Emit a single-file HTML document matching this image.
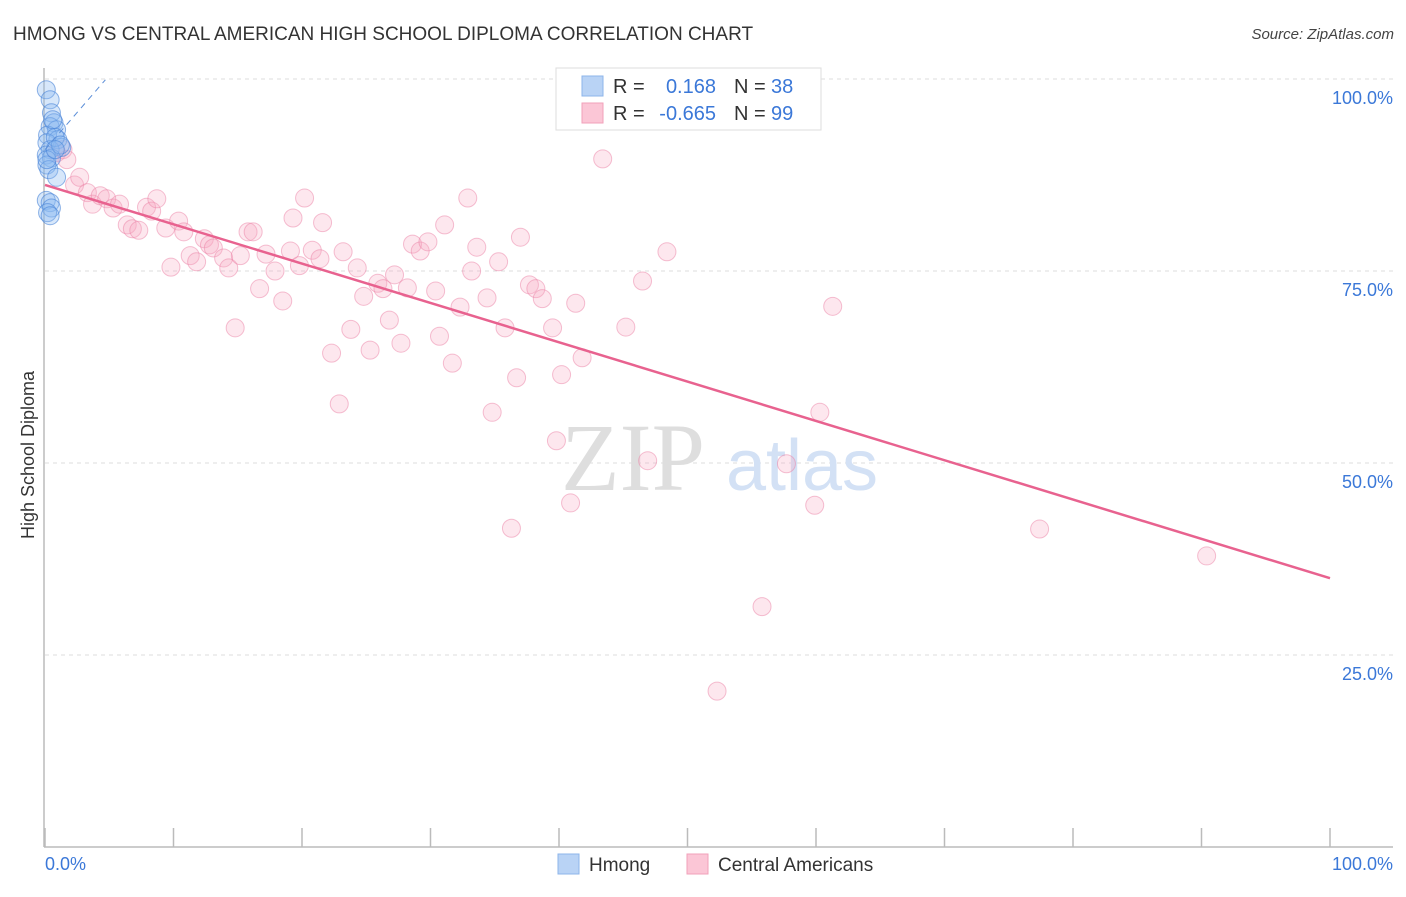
<!DOCTYPE html>
<html><head><meta charset="utf-8"><style>
body{margin:0;background:#fff;font-family:"Liberation Sans",sans-serif}
#wrap{position:relative;width:1406px;height:892px}
</style></head><body>
<div id="wrap">
<svg id="chart" width="1406" height="892"></svg>
</div>
<script>
const pinkX=[0.9,1.4,1.7,2.3,2.7,3.3,3.7,4.3,4.8,5.3,5.8,6.4,6.8,7.3,7.9,8.3,8.7,9.4,9.8,10.4,10.8,11.3,11.8,12.4,12.8,13.1,13.9,14.3,14.8,15.2,15.8,16.2,16.7,17.2,17.9,18.5,19.1,19.3,19.8,20.2,20.8,21.4,21.6,22.3,22.9,23.2,23.8,24.3,24.8,25.3,25.9,26.3,26.8,27.2,27.7,28.2,28.6,29.2,29.8,30.4,30.7,31.1,31.7,32.3,32.9,33.2,33.6,34.4,34.8,35.3,35.8,36.3,36.7,37.0,37.7,38.2,38.7,39.5,39.8,40.2,40.9,41.3,41.8,43.4,45.2,46.5,46.9,48.4,49.2,52.3,55.8,57.7,59.9,60.3,61.3,77.4,90.4];
const pinkY=[90.4,90.8,89.5,86.2,87.2,85.2,83.7,84.8,84.4,83.2,83.7,81.0,80.5,80.3,83.3,82.8,84.4,80.6,75.5,81.5,80.1,77.0,76.2,79.2,78.4,78.0,76.7,75.4,67.6,77.0,80.1,80.1,72.7,77.2,75.0,71.1,77.6,81.9,75.7,84.5,77.7,76.6,81.3,64.3,57.7,77.5,67.4,75.4,71.7,64.7,73.4,72.7,68.6,74.5,65.6,72.8,78.5,77.6,78.8,72.4,66.5,81.0,63.0,70.3,84.5,75.0,78.1,71.5,56.6,76.2,67.6,41.5,61.1,79.4,73.2,72.7,71.4,67.6,52.9,61.5,44.8,70.8,63.7,89.6,67.7,73.7,50.3,77.5,99.9,20.3,31.3,49.9,44.5,56.6,70.4,41.4,37.9];
const blueX=[0.1,0.4,0.5,0.7,0.4,0.9,0.2,1.0,0.15,1.3,0.4,0.1,0.5,0.15,0.3,0.9,0.1,0.4,0.5,0.2,0.4,0.8,1.2,0.6,0.15,0.8];
const blueY=[98.6,97.3,95.6,94.3,93.8,93.4,92.7,92.1,91.7,91.1,90.8,90.1,89.7,88.8,88.2,87.2,84.2,83.9,83.2,82.6,82.2,92.4,91.4,94.7,89.5,90.8];
const pinkTrendX=[0,100], pinkTrendY=[86.2,35.0];
const blueTrendX=[0,4.7], blueTrendY=[90.8,99.9];
const yTicks=[100,75,50,25];
const yTickLabels=["100.0%","75.0%","50.0%","25.0%"];
const xTicks=[0,10,20,30,40,50,60,70,80,90,100];

const X0=45,X1=1330,Y0=847,Y100=79;
const sx=v=>X0+(X1-X0)*v/100;
const sy=v=>Y0-(Y0-Y100)*v/100;
const svg=document.getElementById('chart');
const NS='http://www.w3.org/2000/svg';
function mk(tag,attrs,parent){const e=document.createElementNS(NS,tag);for(const k in attrs)e.setAttribute(k,attrs[k]);(parent||svg).appendChild(e);return e;}
function txt(s,attrs){const e=mk('text',attrs);e.textContent=s;return e;}

let t=txt('HMONG VS CENTRAL AMERICAN HIGH SCHOOL DIPLOMA CORRELATION CHART',{x:13,y:40,'font-size':19,fill:'#333'});


t=txt('Source: ZipAtlas.com',{x:1394,y:39,'font-size':15,fill:'#444','font-style':'italic','text-anchor':'end'});



yTicks.forEach((v,i)=>{
 const g=mk('line',{x1:45,x2:1393,y1:sy(v),y2:sy(v),stroke:'#ddd','stroke-dasharray':'4,4'});
 
 
 const l=txt(yTickLabels[i],{x:1393,y:sy(v)+25,'font-size':18,fill:'#3b78d8','text-anchor':'end'});
 
 
});
let a=mk('line',{x1:44,x2:44,y1:68,y2:847,stroke:'#bbb','stroke-width':1.5});


a=mk('line',{x1:44,x2:1393,y1:847,y2:847,stroke:'#bbb','stroke-width':1.5});


xTicks.forEach(v=>{
 const tk=mk('line',{x1:sx(v),x2:sx(v),y1:828,y2:847,stroke:'#bbb','stroke-width':1.5});
 
 
});
t=txt('0.0%',{x:45,y:870,'font-size':18,fill:'#3b78d8'});


t=txt('100.0%',{x:1393,y:870,'font-size':18,fill:'#3b78d8','text-anchor':'end'});


t=txt('High School Diploma',{x:0,y:0,'font-size':18,fill:'#333','text-anchor':'middle',transform:'translate(34,455) rotate(-90)'});



t=txt('ZIP',{x:633,y:490,'font-size':96,fill:'#dedede','font-family':'Liberation Serif, serif','text-anchor':'middle'});


t=txt('atlas',{x:802,y:490,'font-size':72,fill:'#d3e1f5','text-anchor':'middle'});



pinkX.forEach((v,i)=>{
 const c=mk('circle',{cx:sx(v),cy:sy(pinkY[i]),r:9,fill:'rgba(248,170,195,0.28)',stroke:'rgba(236,130,165,0.5)','stroke-width':1});
 
 
});
blueX.forEach((v,i)=>{
 const c=mk('circle',{cx:sx(v),cy:sy(blueY[i]),r:9,fill:'rgba(140,185,240,0.35)',stroke:'rgba(70,130,215,0.6)','stroke-width':1});
 
 
});
let ln=mk('line',{x1:sx(pinkTrendX[0]),y1:sy(pinkTrendY[0]),x2:sx(pinkTrendX[1]),y2:sy(pinkTrendY[1]),stroke:'#e8628f','stroke-width':2.5});


ln=mk('line',{x1:sx(blueTrendX[0]),y1:sy(blueTrendY[0]),x2:sx(blueTrendX[1]),y2:sy(blueTrendY[1]),stroke:'#5b8ed8','stroke-width':1,'stroke-dasharray':'6,5'});



let g=mk('g',{});


mk('rect',{x:556,y:68,width:265,height:62,fill:'#fff',stroke:'#ddd'},g);
mk('rect',{x:582,y:76,width:21,height:20,fill:'#b9d3f5',stroke:'#8db4ea'},g);
mk('rect',{x:582,y:103,width:21,height:20,fill:'#fbc6d6',stroke:'#f1a0ba'},g);
function gt(s,x,y,fill,anchor){const e=mk('text',{x:x,y:y,'font-size':20,fill:fill,'text-anchor':anchor||'start'},g);e.textContent=s;return e;}
gt('R =',613,93,'#333');gt('0.168',716,93,'#3b78d8','end');gt('N =',734,93,'#333');gt('38',771,93,'#3b78d8');
gt('R =',613,120,'#333');gt('-0.665',716,120,'#3b78d8','end');gt('N =',734,120,'#333');gt('99',771,120,'#3b78d8');

let b=mk('g',{});


mk('rect',{x:558,y:854,width:21,height:20,fill:'#b9d3f5',stroke:'#8db4ea'},b);
let e=mk('text',{x:589,y:871,'font-size':19,fill:'#333'},b);e.textContent='Hmong';
mk('rect',{x:687,y:854,width:21,height:20,fill:'#fbc6d6',stroke:'#f1a0ba'},b);
e=mk('text',{x:718,y:871,'font-size':19,fill:'#333'},b);e.textContent='Central Americans';
</script>
</body></html>
